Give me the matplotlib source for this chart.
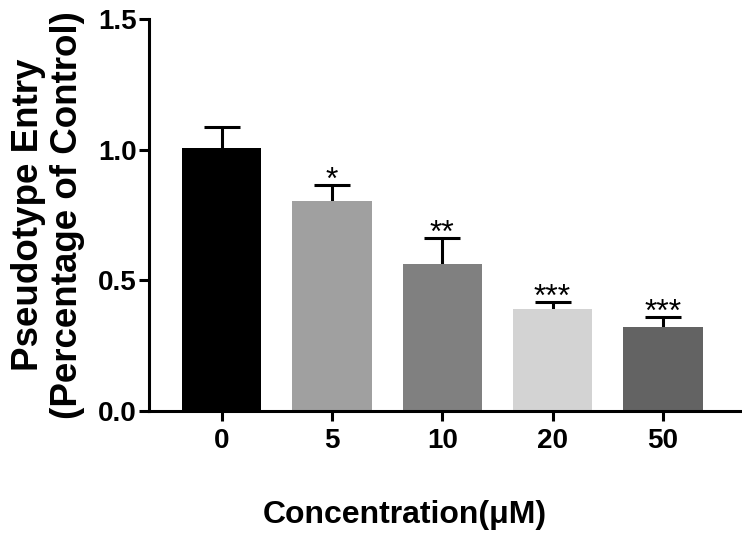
import matplotlib
matplotlib.use('Agg')
import matplotlib.pyplot as plt

concentrations = ['0', '5', '10', '20', '50']
means = [1.008, 0.805, 0.563, 0.392, 0.322]
errors = [0.080, 0.061, 0.100, 0.026, 0.038]
stars = ['', '*', '**', '***', '***']
colors = ['#000000', '#a0a0a0', '#808080', '#d3d3d3', '#636363']

plt.rcParams['font.family'] = ['Liberation Sans', 'DejaVu Sans']
plt.rcParams['font.weight'] = 'bold'

fig = plt.figure(figsize=(7.42, 5.37), dpi=100)
ax = fig.add_axes([149 / 742, 1 - 411 / 537, 591 / 742, 392 / 537])

x = list(range(len(concentrations)))
ax.bar(x, means, width=0.72, color=colors, zorder=2)
_, caps, _ = ax.errorbar(x, means, yerr=[[0] * len(errors), errors],
                         fmt='none', ecolor='black', elinewidth=2.2,
                         capsize=13, capthick=2.2, zorder=1)
# only the upper cap is wanted
for cap in caps:
    if list(cap.get_ydata()) == means:
        cap.set_visible(False)

for xi, m, e, s in zip(x, means, errors, stars):
    if s:
        ax.annotate(s, (xi, m + e), xytext=(0, -3), textcoords='offset points',
                    ha='center', va='baseline', fontsize=23, fontweight='normal')

ax.set_xlim(-0.66, 4.7)
ax.set_ylim(0, 1.5)
ax.set_yticks([0.0, 0.5, 1.0, 1.5])
ax.set_yticklabels(['0.0', '0.5', '1.0', '1.5'])
ax.set_xticks(x)
ax.set_xticklabels(concentrations)

for side in ['top', 'right']:
    ax.spines[side].set_visible(False)
for side in ['left', 'bottom']:
    ax.spines[side].set_linewidth(2.2)

ax.tick_params(axis='both', width=2.2, length=7.5, labelsize=20)
ax.tick_params(axis='y', pad=1.5)
ax.tick_params(axis='x', pad=5)
ax.set_xlabel('Concentration(μM)', fontsize=23, fontweight='bold')
ax.xaxis.set_label_coords((405 - 149) / 591, -0.228)
ax.set_ylabel('Pseudotype Entry\n(Percentage of Control)', fontsize=26.5,
              fontweight='bold', linespacing=1.15)
ax.yaxis.set_label_coords(-0.108, 0.5)

fig.savefig('out.png', dpi=100)
